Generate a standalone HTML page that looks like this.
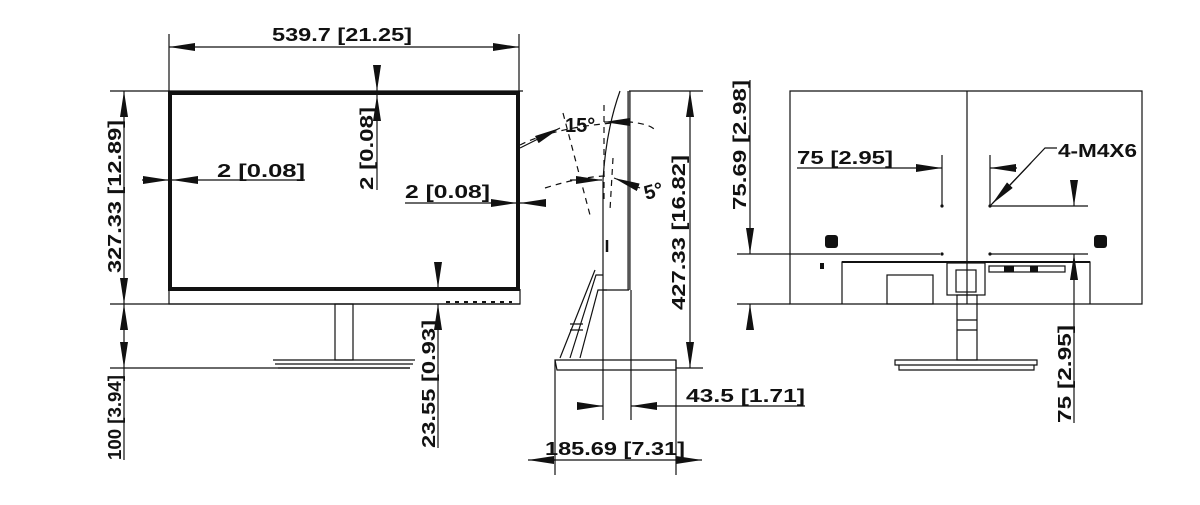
<!DOCTYPE html>
<html><head><meta charset="utf-8"><style>
body{margin:0;background:#fff;width:1200px;height:500px;overflow:hidden}
text{font-family:"Liberation Sans",sans-serif;font-weight:bold;font-size:18px;fill:#111}
</style></head><body>
<svg width="1200" height="500" viewBox="0 0 1200 500" xmlns="http://www.w3.org/2000/svg">
<defs>
<marker id="a" viewBox="0 0 26 8" refX="26" refY="4" markerWidth="26" markerHeight="8" markerUnits="userSpaceOnUse" orient="auto-start-reverse"><path d="M0,0 L26,4 L0,8z" fill="#111"/></marker>
</defs>
<g stroke="#111" fill="none" stroke-width="1.2">
<rect x="170" y="93" width="348" height="196" stroke-width="4"/>
<path d="M169,289 V304 H520 V289"/>
<path d="M110,91 H523 M110,304 H520 M110,368 H410"/>
<path d="M169,34 V91 M519,34 V91"/>
<path d="M169,47 H519" marker-start="url(#a)" marker-end="url(#a)"/>
<path d="M124,91 V304" marker-start="url(#a)" marker-end="url(#a)"/>
<path d="M124,304 V368" marker-start="url(#a)" marker-end="url(#a)"/>
<path d="M124,368 V460"/>
<rect x="335" y="304" width="18" height="56"/>
<path d="M273,360 H415 M275,364 H413 M278,368 H410" />
<path d="M142,180 H169" marker-end="url(#a)"/>
<path d="M305,180 H172" marker-end="url(#a)"/>
<path d="M377,65 V91" marker-end="url(#a)"/>
<path d="M377,190 V95" marker-end="url(#a)"/>
<path d="M405,203 H517" marker-end="url(#a)"/>
<path d="M546,203 H520" marker-end="url(#a)"/>
<path d="M438,262 V288" marker-end="url(#a)"/>
<path d="M438,448 V304" marker-end="url(#a)"/>
<path d="M446,302 H512" stroke-dasharray="4,5" stroke-width="2"/>
<path d="M629,91 V290" stroke-width="3.5" stroke="#555"/>
<path d="M629,91 H703 M620,91 Q606,130 603,180 V290 H629 M631,290 V420 M603,210 V420"/>
<path d="M690,91 V368" marker-start="url(#a)" marker-end="url(#a)"/>
<path d="M555,360 H676 V370 H557 Z M676,368 H703"/>
<path d="M603,275 H596 L570,358 M607,290 H598 L580,358 M595,270 L560,358"/>
<path d="M570,324 H583 M570,330 H583"/>
<path d="M607,240 V252" stroke-width="2.5"/>
<path d="M577,406 H603" marker-end="url(#a)"/>
<path d="M805,406 H631" marker-end="url(#a)"/>
<path d="M555,360 V475 M676,360 V475"/>
<path d="M528,460 H555" marker-start="url(#a)"/>
<path d="M676,460 H702" marker-end="url(#a)"/>
<path d="M545,460 H686"/>
<g stroke-dasharray="6,5">
<path d="M520,145 Q560,125 630,122 Q650,124 655,130"/>
<path d="M545,188 Q580,177 605,176"/>
<path d="M563,113 L590,215"/>
<path d="M604,105 V200 M613,158 L610,210"/>
</g>
<path d="M520,148 L560,128" marker-end="url(#a)"/>
<path d="M630,122 H604" marker-end="url(#a)"/>
<path d="M570,180 H602" marker-end="url(#a)"/>
<path d="M640,188 L614,178" marker-end="url(#a)"/>
<path d="M790,91 H1142 V304 H790 Z M967,91 V304"/>
<path d="M737,254 H940 M990,254 H1088 M737,304 H790 M990,206 H1088"/>
<path d="M750,80 V254" marker-end="url(#a)"/>
<path d="M750,330 V304" marker-end="url(#a)"/>
<path d="M797,168 H942" marker-end="url(#a)"/>
<path d="M1017,168 H990" marker-end="url(#a)"/>
<path d="M942,155 V206 M990,155 V206"/>
<path d="M1057,148 H1045 L990,206" />
<path d="M1031,163 L992,204" marker-end="url(#a)"/>
<path d="M1074,180 V206" marker-end="url(#a)"/>
<path d="M1074,423 V254" marker-end="url(#a)"/>
<path d="M842,304 V262 H1090 V304" />
<path d="M842,262 H1090" stroke-width="2"/>
<rect x="887" y="275" width="46" height="29"/>
<rect x="947" y="263" width="38" height="32"/>
<rect x="956" y="270" width="20" height="22"/>
<rect x="989" y="266" width="76" height="6"/>
<rect x="957" y="295" width="20" height="65"/>
<path d="M957,320 H977 M957,330 H977"/>
<path d="M895,360 H1037 V365 H895 Z M899,365 V370 H1034 V365"/>
</g>
<g fill="#111">
<circle cx="942" cy="206" r="1.6"/><circle cx="990" cy="206" r="1.6"/>
<circle cx="942" cy="254" r="1.6"/><circle cx="990" cy="254" r="1.6"/>
<rect x="825" y="235" width="13" height="13" rx="3"/>
<rect x="1094" y="235" width="13" height="13" rx="3"/>
<rect x="820" y="263" width="4" height="6"/>
<rect x="1004" y="266" width="10" height="6"/><rect x="1030" y="266" width="8" height="6"/>
</g>
<text x="272" y="41" textLength="140" lengthAdjust="spacingAndGlyphs">539.7  [21.25]</text>
<text x="217" y="177" textLength="88" lengthAdjust="spacingAndGlyphs">2   [0.08]</text>
<text x="405" y="198" textLength="85" lengthAdjust="spacingAndGlyphs">2  [0.08]</text>
<text transform="translate(373,190) rotate(-90)" textLength="83" lengthAdjust="spacingAndGlyphs">2  [0.08]</text>
<text transform="translate(121,273) rotate(-90)" textLength="153" lengthAdjust="spacingAndGlyphs">327.33  [12.89]</text>
<text transform="translate(121,460) rotate(-90)" textLength="85" lengthAdjust="spacingAndGlyphs">100  [3.94]</text>
<text transform="translate(435,448) rotate(-90)" textLength="128" lengthAdjust="spacingAndGlyphs">23.55  [0.93]</text>
<text x="565" y="132" style="font-size:20px">15°</text>
<text transform="translate(646,200) rotate(-15)" style="font-size:20px">5°</text>
<text transform="translate(685,310) rotate(-90)" textLength="155" lengthAdjust="spacingAndGlyphs">427.33  [16.82]</text>
<text x="686" y="402" textLength="119" lengthAdjust="spacingAndGlyphs">43.5  [1.71]</text>
<text x="545" y="455" textLength="140" lengthAdjust="spacingAndGlyphs">185.69  [7.31]</text>
<text transform="translate(746,210) rotate(-90)" textLength="130" lengthAdjust="spacingAndGlyphs">75.69  [2.98]</text>
<text x="797" y="164" textLength="96" lengthAdjust="spacingAndGlyphs">75  [2.95]</text>
<text x="1058" y="157" textLength="79" lengthAdjust="spacingAndGlyphs">4-M4X6</text>
<text transform="translate(1071,423) rotate(-90)" textLength="98" lengthAdjust="spacingAndGlyphs">75  [2.95]</text>
</svg>
</body></html>
